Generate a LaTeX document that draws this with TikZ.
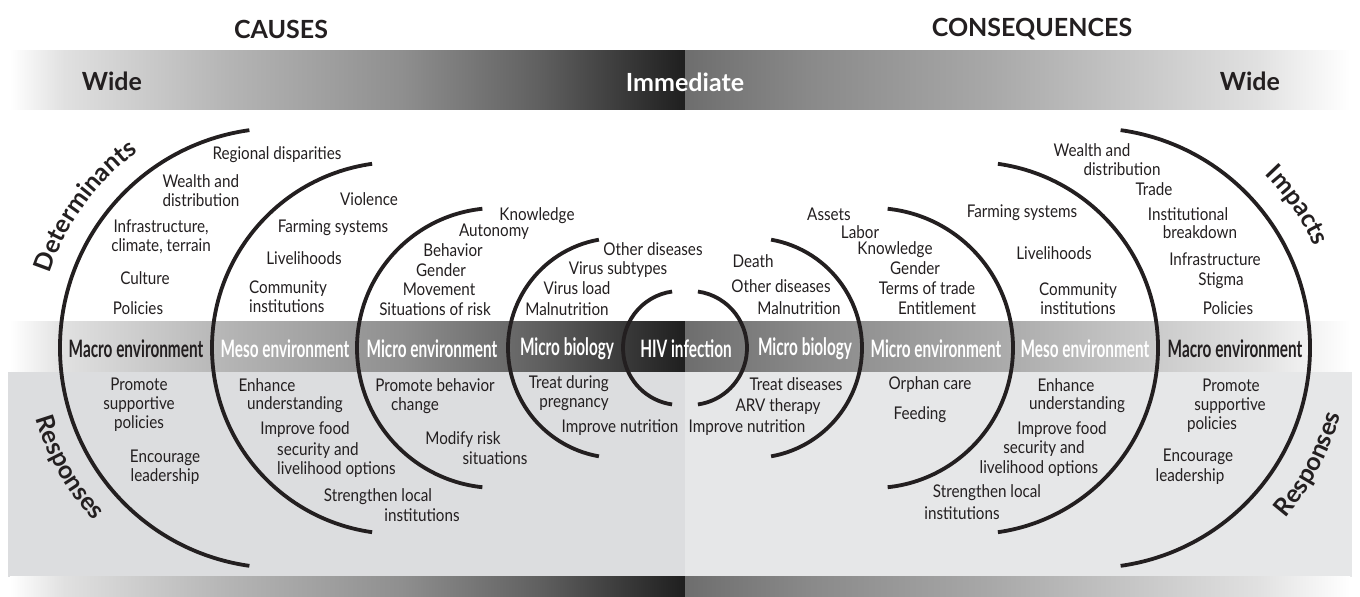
\documentclass[tikz,border=0pt]{standalone}
\usepackage{fontspec}
\setmainfont{Lato}
\newfontfamily\itemfont[FakeStretch=0.87]{Lato}
\newfontfamily\bandfont[FakeStretch=0.64]{Lato}
\usetikzlibrary{calc,decorations.text}

\definecolor{ink}{RGB}{35,31,32}
\definecolor{grisA}{RGB}{220,221,223}
\definecolor{grisB}{RGB}{230,231,232}
\pgfdeclarehorizontalshading{causa}{100bp}{color(0bp)=(white); color(25bp)=(white); color(29bp)=(black!12); color(41bp)=(black!29); color(54bp)=(black!44); color(64bp)=(black!62); color(75bp)=(black!88); color(100bp)=(black!88)}
\pgfdeclarehorizontalshading{efecto}{100bp}{color(0bp)=(black!57); color(25bp)=(black!57); color(34.5bp)=(black!46); color(48bp)=(black!34); color(58bp)=(black!23); color(68bp)=(black!12); color(75bp)=(white); color(100bp)=(white)}
\newcommand\curva{\bfseries\fontsize{25}{25}\selectfont\color{ink}}
\tikzset{
  item/.style={font=\itemfont\fontsize{17.5}{19}\selectfont,text=ink,inner sep=0pt,align=center},
  banda/.style={font=\bandfont\bfseries\fontsize{24}{24}\selectfont,text=white,inner sep=0pt},
  cabeza/.style={font=\bfseries\fontsize{25}{25}\selectfont,text=ink,inner sep=0pt},
  arco/.style={draw=ink,line width=3.8pt}
}

\begin{document}
\begin{tikzpicture}[x=1pt,y=1pt]
  \useasboundingbox (0,0) rectangle (1360,597);
  % bandas de fondo
  \shade[shading=causa] (10,487) rectangle (685,546);
  \shade[shading=efecto] (685,487) rectangle (1350,546);
  \shade[shading=causa] (10,225) rectangle (685,275);
  \shade[shading=efecto] (685,225) rectangle (1350,275);
  \fill[grisA] (8,20) rectangle (685,225);
  \fill[grisB] (685,20) rectangle (1352,225);
  \shade[shading=causa] (10,0) rectangle (685,20);
  \shade[shading=efecto] (685,0) rectangle (1350,20);
  % cabeceras
  \node[cabeza] (causes) at (281,568) {CAUSES};
  \node[cabeza] (conseq) at (1032,568) {CONSEQUENCES};
  \node[cabeza] (wideL) at (112,516) {Wide};
  \node[cabeza,text=white] (immediate) at (685,515) {Immediate};
  \node[cabeza] (wideR) at (1250,516) {Wide};
  % centros de los arcos
  \coordinate (cL1) at (280,249); \coordinate (cL2) at (398,249);
  \coordinate (cL3) at (497,249); \coordinate (cL4) at (618,249);
  \coordinate (cL5) at (680,249);
  \coordinate (cR1) at (1090,249); \coordinate (cR2) at (972,249);
  \coordinate (cR3) at (873,249); \coordinate (cR4) at (752,249);
  \coordinate (cR5) at (690,249);
  % arcos causas
  \draw[arco] ($(cL1)+(98:220)$) arc (98:262:220);
  \draw[arco] ($(cL2)+(98:186)$) arc (98:262:186);
  \draw[arco] ($(cL3)+(96:140)$) arc (96:264:140);
  \draw[arco] ($(cL4)+(100:110)$) arc (100:260:110);
  \draw[arco] ($(cL5)+(98:57)$) arc (98:262:57);
  % arcos consecuencias
  \draw[arco] ($(cR1)+(82:220)$) arc (82:-82:220);
  \draw[arco] ($(cR2)+(82:186)$) arc (82:-82:186);
  \draw[arco] ($(cR3)+(84:140)$) arc (84:-84:140);
  \draw[arco] ($(cR4)+(80:110)$) arc (80:-80:110);
  \draw[arco] ($(cR5)+(82:57)$) arc (82:-82:57);
  % rotulos curvos
  \path[decorate,decoration={text along path,text align=center,text={|\curva|Determinants}}] ($(cL1)+(178:242)$) arc (178:110:242);
  \path[decorate,decoration={text along path,text align=center,text={|\curva|Responses}}] ($(cL1)+(180:254)$) arc (180:239:254);
  \path[decorate,decoration={text along path,text align=center,text={|\curva|Impacts}}] ($(cR1)+(60:246)$) arc (60:9:246);
  \path[decorate,decoration={text along path,text align=center,text={|\curva|Responses}}] ($(cR1)+(-58:259)$) arc (-58:2:259);
  % banda central
  \node[banda,text=ink] (macroL) at (136,248) {Macro environment};
  \node[banda] (mesoL) at (285,248) {Meso environment};
  \node[banda] (microL) at (432,248) {Micro environment};
  \node[banda] (bioL) at (567,248) {Micro biology};
  \node[banda] (hiv) at (686,248) {HIV infection};
  \node[banda] (bioR) at (805,248) {Micro biology};
  \node[banda] (microR) at (936,248) {Micro environment};
  \node[banda] (mesoR) at (1085,248) {Meso environment};
  \node[banda,text=ink] (macroR) at (1235,248) {Macro environment};
  % determinantes
  \node[item] (regdisp) at (277,442) {Regional disparities};
  \node[item,align=left] (wealthL) at (201,406) {Wealth and\\distribution};
  \node[item] (infraL) at (161,360) {Infrastructure,\\climate, terrain};
  \node[item] (cultureL) at (145,319) {Culture};
  \node[item] (policiesL) at (138,289) {Policies};
  \node[item] (violence) at (369,398) {Violence};
  \node[item] (farmingL) at (333,369) {Farming systems};
  \node[item] (liveL) at (304,339) {Livelihoods};
  \node[item,align=left] (commL) at (288,300) {Community\\institutions};
  \node[item] (knowL) at (537,381) {Knowledge};
  \node[item] (autonomy) at (494,365) {Autonomy};
  \node[item] (behavior) at (453,347) {Behavior};
  \node[item] (genderL) at (441,327) {Gender};
  \node[item] (movement) at (439,308) {Movement};
  \node[item] (risk) at (435,288) {Situations of risk};
  \node[item] (otherL) at (653,348) {Other diseases};
  \node[item] (subtypes) at (618,327) {Virus subtypes};
  \node[item] (load) at (577,309) {Virus load};
  \node[item] (malnutL) at (567,288) {Malnutrition};
  % impactos
  \node[item] (death) at (753,336) {Death};
  \node[item] (otherR) at (781,311) {Other diseases};
  \node[item] (malnutR) at (799,289) {Malnutrition};
  \node[item] (assets) at (829,383) {Assets};
  \node[item] (labor) at (860,365) {Labor};
  \node[item] (knowR) at (895,347) {Knowledge};
  \node[item] (genderR) at (915,329) {Gender};
  \node[item] (terms) at (927,309) {Terms of trade};
  \node[item] (entitle) at (937,289) {Entitlement};
  \node[item] (farmingR) at (1022,384) {Farming systems};
  \node[item] (liveR) at (1054,344) {Livelihoods};
  \node[item] (commR) at (1078,298) {Community\\institutions};
  \node[item] (wealthR) at (1092,447) {Wealth and};
  \node[item] (distrR) at (1122,428) {distribution};
  \node[item] (trade) at (1154,408) {Trade};
  \node[item] (instit) at (1188,383) {Institutional};
  \node[item] (breakdown) at (1200,365) {breakdown};
  \node[item] (infraR) at (1215,338) {Infrastructure};
  \node[item] (stigma) at (1221,316) {Stigma};
  \node[item] (policiesR) at (1228,289) {Policies};
  % respuestas causas
  \node[item] (promoteL) at (139,192) {Promote\\supportive\\policies};
  \node[item] (encourL) at (165,130) {Encourage\\leadership};
  \node[item] (enhanceL) at (267,212) {Enhance};
  \node[item] (understL) at (295,192) {understanding};
  \node[item] (foodL) at (305,167) {Improve food};
  \node[item,align=left,anchor=west] (securL) at (277,137) {security and\\livelihood options};
  \node[item] (strengL) at (378,100) {Strengthen local};
  \node[item] (institL) at (422,82) {institutions};
  \node[item] (behav) at (435,212) {Promote behavior};
  \node[item] (change) at (415,191) {change};
  \node[item] (modify) at (463,157) {Modify risk};
  \node[item] (situat) at (495,139) {situations};
  \node[item,align=right,anchor=east] (pregn) at (609,204) {Treat during\\pregnancy};
  \node[item] (nutrL) at (620,169) {Improve nutrition};
  % respuestas consecuencias
  \node[item] (nutrR) at (747,169) {Improve nutrition};
  \node[item] (arv) at (778,190) {ARV therapy};
  \node[item] (treat) at (796,213) {Treat diseases};
  \node[item] (orphan) at (930,212) {Orphan care};
  \node[item] (feeding) at (920,182) {Feeding};
  \node[item] (enhanceR) at (1066,212) {Enhance};
  \node[item] (understR) at (1077,192) {understanding};
  \node[item] (foodR) at (1062,167) {Improve food};
  \node[item] (securR) at (1044,148) {security and};
  \node[item] (liveoptR) at (1039,128) {livelihood options};
  \node[item] (strengR) at (987,104) {Strengthen local};
  \node[item] (institR) at (962,84) {institutions};
  \node[item] (promR) at (1231,212) {Promote};
  \node[item] (suppR) at (1230,191) {supportive};
  \node[item] (polR) at (1212,172) {policies};
  \node[item] (encR) at (1198,140) {Encourage};
  \node[item] (leadR) at (1190,120) {leadership};
\end{tikzpicture}
\end{document}
